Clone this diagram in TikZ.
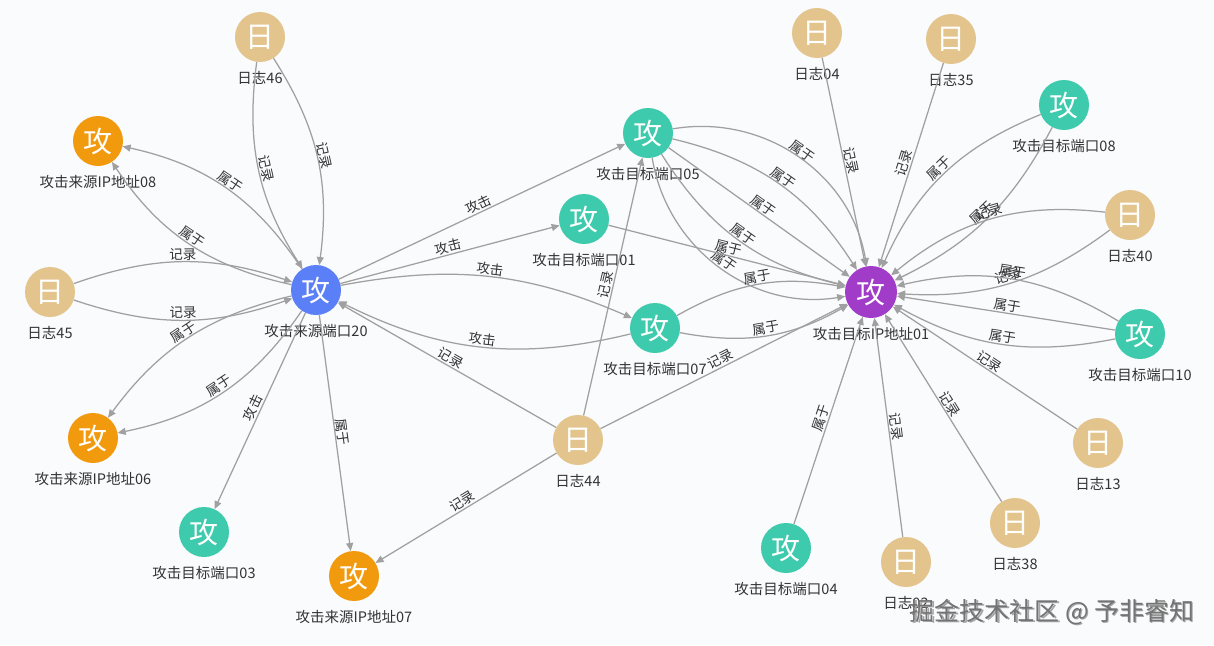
\documentclass[tikz,border=0pt]{standalone}
\usepackage{fontspec}
\setmainfont{Noto Sans CJK SC}
\usetikzlibrary{arrows.meta}
\definecolor{bgc}{RGB}{250,251,253}
\definecolor{logc}{RGB}{226,196,140}
\definecolor{orc}{RGB}{242,154,14}
\definecolor{tlc}{RGB}{62,202,172}
\definecolor{blc}{RGB}{91,127,247}
\definecolor{puc}{RGB}{160,60,200}
\definecolor{edc}{RGB}{160,160,160}
\definecolor{txc}{RGB}{51,51,51}
\begin{document}
\begin{tikzpicture}[x=1pt,y=1pt,
  gnode/.style={circle,minimum size=50pt,inner sep=0pt,text=white,
    font=\fontsize{29}{29}\selectfont,
    label={[font=\fontsize{14.5}{14.5}\selectfont,text=txc,inner sep=1pt,label distance=7.5pt]below:#1}},
  logn/.style={gnode={#1},fill=logc},
  orn/.style={gnode={#1},fill=orc},
  tln/.style={gnode={#1},fill=tlc},
  bln/.style={gnode={#1},fill=blc},
  pun/.style={gnode={#1},fill=puc,minimum size=52pt},
  edge/.style={draw=edc,line width=1.25pt,-{Triangle[length=8pt,width=7pt]}},
  el/.style={sloped,above,inner sep=1pt,text=txc,font=\fontsize{13.5}{13.5}\selectfont}]
\useasboundingbox (0,0) rectangle (1214,-645);
\fill[bgc] (0,0) rectangle (1214,-645);
% nodes
\node[logn={日志46}] (n46) at (260,-37) {日};
\node[orn={攻击来源IP地址08}] (ip08) at (98,-141) {攻};
\node[logn={日志45}] (n45) at (50,-292) {日};
\node[bln={攻击来源端口20}] (S) at (316,-290) {攻};
\node[orn={攻击来源IP地址06}] (ip06) at (93,-438) {攻};
\node[tln={攻击目标端口03}] (p03) at (204,-532) {攻};
\node[orn={攻击来源IP地址07}] (ip07) at (354,-576) {攻};
\node[logn={日志44}] (n44) at (578,-440) {日};
\node[tln={攻击目标端口05}] (p05) at (648,-133) {攻};
\node[tln={攻击目标端口01}] (p01) at (584,-219) {攻};
\node[tln={攻击目标端口07}] (p07) at (655,-328) {攻};
\node[pun={攻击目标IP地址01}] (T) at (871,-292) {攻};
\node[logn={日志04}] (n04) at (817,-33) {日};
\node[logn={日志35}] (n35) at (951,-39) {日};
\node[tln={攻击目标端口08}] (p08) at (1064,-105) {攻};
\node[logn={日志40}] (n40) at (1130,-215) {日};
\node[tln={攻击目标端口10}] (p10) at (1140,-334) {攻};
\node[logn={日志13}] (n13) at (1098,-443) {日};
\node[logn={日志38}] (n38) at (1015,-523) {日};
\node[logn={日志02}] (n02) at (906,-562) {日};
\node[tln={攻击目标端口04}] (p04) at (786,-548) {攻};
% edges around source port
\draw[edge] (n46) to[bend right=20] node[el]{记录} (S);
\draw[edge] (n46) to[bend left=20] node[el]{记录} (S);
\draw[edge] (S) to[bend right=22] node[el]{属于} (ip08);
\draw[edge] (S) to[bend left=22] node[el]{属于} (ip08);
\draw[edge] (n45) to[bend left=19] node[el]{记录} (S);
\draw[edge] (n45) to[bend right=19] node[el]{记录} (S);
\draw[edge] (S) to[bend right=20] node[el]{属于} (ip06);
\draw[edge] (S) to[bend left=22] node[el]{属于} (ip06);
\draw[edge] (S) to node[el]{攻击} (p03);
\draw[edge] (S) to node[el]{属于} (ip07);
\draw[edge] (n44) to node[el]{记录} (S);
\draw[edge] (n44) to node[el]{记录} (ip07);
\draw[edge] (n44) to node[el]{记录} (p05);
\draw[edge] (n44) to node[el]{记录} (T);
\draw[edge] (S) to node[el]{攻击} (p05);
\draw[edge] (S) to node[el]{攻击} (p01);
\draw[edge] (S) to[bend left=17] node[el]{攻击} (p07);
\draw[edge] (p07) to[bend left=20] node[el]{攻击} (S);
% edges to target IP
\draw[edge] (p05) to[bend left=45] node[el]{属于} (T);
\draw[edge] (p05) to[bend left=22] node[el]{属于} (T);
\draw[edge] (p05) to node[el]{属于} (T);
\draw[edge] (p05) to[bend right=22] node[el]{属于} (T);
\draw[edge] (p05) to[bend right=45] node[el]{属于} (T);
\draw[edge] (p01) to node[el]{属于} (T);
\draw[edge] (p07) to[bend left=20] node[el]{属于} (T);
\draw[edge] (p07) to[bend right=20] node[el]{属于} (T);
\draw[edge] (n04) to node[el]{记录} (T);
\draw[edge] (n35) to node[el]{记录} (T);
\draw[edge] (p08) to[bend right=22] node[el]{属于} (T);
\draw[edge] (p08) to[bend left=18] node[el]{属于} (T);
\draw[edge] (n40) to[bend right=23] node[el]{记录} (T);
\draw[edge] (n40) to[bend left=20] node[el]{记录} (T);
\draw[edge] (p10) to[bend right=22] node[el]{属于} (T);
\draw[edge] (p10) to node[el]{属于} (T);
\draw[edge] (p10) to[bend left=20] node[el]{属于} (T);
\draw[edge] (n13) to node[el]{记录} (T);
\draw[edge] (n38) to node[el]{记录} (T);
\draw[edge] (n02) to node[el]{记录} (T);
\draw[edge] (p04) to node[el]{属于} (T);
% watermark
\node[text=black!35,font=\fontsize{25}{25}\selectfont] (wms) at (1053.5,-613.5) {掘金技术社区 @ 予非睿知};
\node[text=black!55,font=\fontsize{25}{25}\selectfont] (wm) at (1052,-612) {掘金技术社区 @ 予非睿知};
\end{tikzpicture}
\end{document}
